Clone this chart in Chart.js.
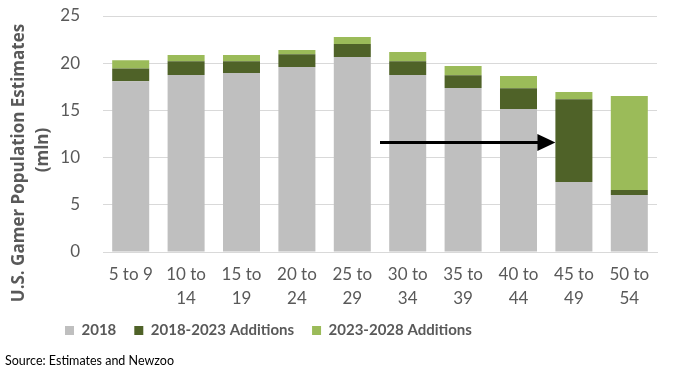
<!DOCTYPE html>
<html><head><meta charset="utf-8">
<script src="https://cdn.jsdelivr.net/npm/chart.js@4.4.1/dist/chart.umd.min.js"></script>
<style>html,body{margin:0;padding:0;background:#fff;overflow:hidden}canvas{display:block}</style>
</head><body>
<canvas id="c" width="673" height="373"></canvas>
<script>
// ---- data ----
const categories = [["5 to 9"],["10 to","14"],["15 to","19"],["20 to","24"],["25 to","29"],["30 to","34"],["35 to","39"],["40 to","44"],["45 to","49"],["50 to","54"]];
const seriesNames = ["2018","2018-2023 Additions","2023-2028 Additions"];
const base2018 =      [18.1, 18.75, 18.96, 19.6, 20.66, 18.75, 17.37, 15.15, 7.42, 6.04];
const add2018to2023 = [1.35, 1.45, 1.24, 1.34, 1.37, 1.45, 1.35, 2.19, 8.75, 0.53];
const add2023to2028 = [0.85, 0.67, 0.67, 0.46, 0.75, 0.99, 0.98, 1.30, 0.78, 9.96];
const yMin = 0, yMax = 25, yStep = 5;
const yTitle = ["U.S. Gamer Population Estimates", "(mln)"];
const sourceText = "Source: Estimates and Newzoo";
// arrow annotation (category index from -> bar index to, at value)
const arrowFrom = 4.5, arrowTo = 8, arrowValue = 11.6;

const GRAY_TXT = '#595959';

const yTitlePlugin = {
  id: 'ytitle',
  afterDraw(chart) {
    const ctx = chart.ctx;
    ctx.save();
    ctx.fillStyle = GRAY_TXT;
    ctx.font = 'bold 17px "Open Sans"';
    ctx.textAlign = 'center';
    ctx.textBaseline = 'middle';
    ctx.save(); ctx.translate(19.5, 163); ctx.rotate(-Math.PI / 2); ctx.fillText(yTitle[0], 0, 0); ctx.restore();
    ctx.save(); ctx.translate(43, 150); ctx.rotate(-Math.PI / 2); ctx.fillText(yTitle[1], 0, 0); ctx.restore();
    ctx.restore();
  }
};

const arrowPlugin = {
  id: 'arrow',
  afterDatasetsDraw(chart) {
    const ctx = chart.ctx, xs = chart.scales.x, ys = chart.scales.y;
    const bar = chart.getDatasetMeta(0).data[arrowTo];
    const x0 = xs.getPixelForValue(arrowFrom);
    const x1 = bar.x - bar.width / 2;
    const y = ys.getPixelForValue(arrowValue);
    ctx.save();
    ctx.strokeStyle = '#000'; ctx.fillStyle = '#000'; ctx.lineWidth = 3;
    ctx.beginPath(); ctx.moveTo(x0, y); ctx.lineTo(x1 - 14, y); ctx.stroke();
    ctx.beginPath(); ctx.moveTo(x1 - 18, y - 8.5); ctx.lineTo(x1, y); ctx.lineTo(x1 - 18, y + 8.5); ctx.closePath(); ctx.fill();
    ctx.restore();
  }
};

const legendShiftPlugin = {
  id: 'legendShift',
  afterLayout(chart) {
    const lg = chart.legend;
    if (lg) { lg.left += 42; lg.right += 42; lg.top -= 5; lg.bottom -= 5; }
  }
};

new Chart(document.getElementById('c'), {
  type: 'bar',
  data: {
    labels: categories,
    datasets: [
      { label: seriesNames[0], data: base2018, backgroundColor: '#BFBFBF', borderWidth: 0 },
      { label: seriesNames[1], data: add2018to2023, backgroundColor: '#4F6228', borderWidth: 0 },
      { label: seriesNames[2], data: add2023to2028, backgroundColor: '#9BBB59', borderWidth: 0 }
    ]
  },
  options: {
    responsive: false,
    animation: false,
    devicePixelRatio: 1,
    layout: { padding: { left: 5, right: 16, top: 16, bottom: 5 } },
    datasets: { bar: { barPercentage: 0.668, categoryPercentage: 1 } },
    scales: {
      x: {
        stacked: true,
        grid: { display: false, drawTicks: false },
        border: { display: true, color: '#D9D9D9', width: 1 },
        ticks: { color: GRAY_TXT, font: { family: 'Lato', size: 17, lineHeight: 1.4 }, padding: 11, maxRotation: 0, autoSkip: false },
        afterFit(s) { s.height = 58; s.paddingLeft = 0; s.paddingRight = 0; }
      },
      y: {
        stacked: true,
        min: yMin, max: yMax,
        grid: { color: '#D9D9D9', lineWidth: 1, drawTicks: false },
        border: { display: false },
        ticks: { stepSize: yStep, color: GRAY_TXT, font: { family: 'Lato', size: 17 }, padding: 23 },
        afterFit(s) { s.width = 98; s.paddingTop = 0; s.paddingBottom = 0; }
      }
    },
    plugins: {
      legend: {
        position: 'bottom', align: 'start',
        labels: { color: GRAY_TXT, font: { family: 'Lato', size: 15, weight: 'bold' }, boxWidth: 9, boxHeight: 9, padding: 18 }
      },
      subtitle: {
        display: true, text: sourceText, position: 'bottom', align: 'start',
        color: '#000', font: { family: 'Lato', size: 12.5, weight: 'normal' },
        padding: { top: 0, bottom: 0 }
      },
      title: { display: false },
      tooltip: { enabled: false }
    }
  },
  plugins: [yTitlePlugin, arrowPlugin, legendShiftPlugin]
});
</script>
</body></html>
